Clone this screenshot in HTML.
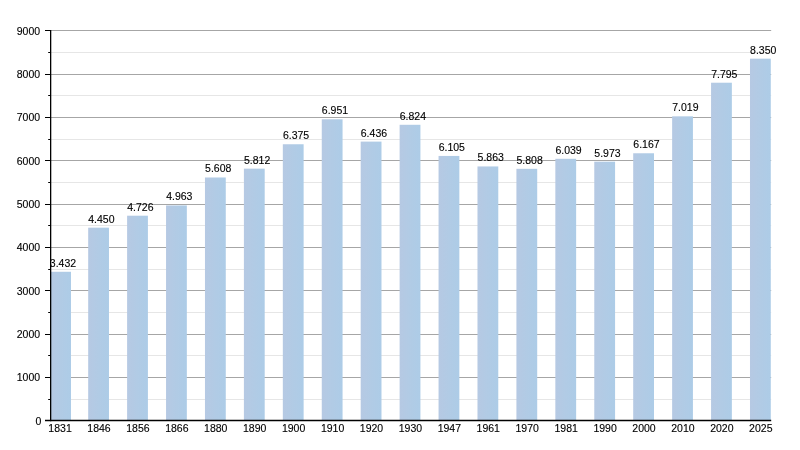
<!DOCTYPE html>
<html><head><meta charset="utf-8"><title>Chart</title>
<style>
html,body{margin:0;padding:0;background:#fff;}
body{width:800px;height:450px;overflow:hidden;}
svg{display:block;opacity:0.999;will-change:transform;}
text{font-family:"Liberation Sans",Arial,Helvetica,sans-serif;font-size:10.5px;fill:#000;stroke:#000;stroke-width:0.12px;}
</style></head><body>
<svg width="800" height="450" viewBox="0 0 800 450">
<rect x="0" y="0" width="800" height="450" fill="#ffffff"/>

<g stroke="#e6e6e6" stroke-width="1">
<line x1="50.6" y1="399.5" x2="771.2" y2="399.5"/>
<line x1="50.6" y1="355.5" x2="771.2" y2="355.5"/>
<line x1="50.6" y1="312.5" x2="771.2" y2="312.5"/>
<line x1="50.6" y1="269.5" x2="771.2" y2="269.5"/>
<line x1="50.6" y1="225.5" x2="771.2" y2="225.5"/>
<line x1="50.6" y1="182.5" x2="771.2" y2="182.5"/>
<line x1="50.6" y1="139.5" x2="771.2" y2="139.5"/>
<line x1="50.6" y1="95.5" x2="771.2" y2="95.5"/>
<line x1="50.6" y1="52.5" x2="771.2" y2="52.5"/>
</g>
<g stroke="#a6a6a6" stroke-width="1">
<line x1="50.6" y1="377.5" x2="771.2" y2="377.5"/>
<line x1="50.6" y1="334.5" x2="771.2" y2="334.5"/>
<line x1="50.6" y1="290.5" x2="771.2" y2="290.5"/>
<line x1="50.6" y1="247.5" x2="771.2" y2="247.5"/>
<line x1="50.6" y1="204.5" x2="771.2" y2="204.5"/>
<line x1="50.6" y1="160.5" x2="771.2" y2="160.5"/>
<line x1="50.6" y1="117.5" x2="771.2" y2="117.5"/>
<line x1="50.6" y1="74.5" x2="771.2" y2="74.5"/>
<line x1="50.6" y1="30.5" x2="771.2" y2="30.5"/>
</g>
<defs><filter id="soft" x="-5%" y="-5%" width="110%" height="110%"><feGaussianBlur stdDeviation="0.4"/></filter></defs>
<defs><linearGradient id="bg" x1="0" y1="0" x2="1" y2="0"><stop offset="0" stop-color="#b6c9e3"/><stop offset="0.5" stop-color="#b1cbe5"/><stop offset="1" stop-color="#adcce7"/></linearGradient></defs>
<g fill="url(#bg)" filter="url(#soft)">
<rect x="50.20" y="271.78" width="20.80" height="148.72"/>
<rect x="88.18" y="227.67" width="20.80" height="192.83"/>
<rect x="127.11" y="215.71" width="20.80" height="204.79"/>
<rect x="166.04" y="205.44" width="20.80" height="215.06"/>
<rect x="204.97" y="177.49" width="20.80" height="243.01"/>
<rect x="243.90" y="168.65" width="20.80" height="251.85"/>
<rect x="282.83" y="144.25" width="20.80" height="276.25"/>
<rect x="321.76" y="119.29" width="20.80" height="301.21"/>
<rect x="360.69" y="141.61" width="20.80" height="278.89"/>
<rect x="399.62" y="124.79" width="20.80" height="295.71"/>
<rect x="438.55" y="155.95" width="20.80" height="264.55"/>
<rect x="477.48" y="166.44" width="20.80" height="254.06"/>
<rect x="516.41" y="168.82" width="20.80" height="251.68"/>
<rect x="555.34" y="158.81" width="20.80" height="261.69"/>
<rect x="594.27" y="161.67" width="20.80" height="258.83"/>
<rect x="633.20" y="153.26" width="20.80" height="267.24"/>
<rect x="672.13" y="116.34" width="20.80" height="304.16"/>
<rect x="711.06" y="82.72" width="20.80" height="337.78"/>
<rect x="749.99" y="58.67" width="20.80" height="361.83"/>
</g>
<g stroke="#000">
<line x1="50.65" y1="30.00" x2="50.65" y2="421.15" stroke-width="1.3"/>
<line x1="45.00" y1="420.50" x2="771.20" y2="420.50" stroke-width="1.3"/>
<line x1="45" y1="377.5" x2="50.65" y2="377.5" stroke-width="1"/>
<line x1="45" y1="334.5" x2="50.65" y2="334.5" stroke-width="1"/>
<line x1="45" y1="290.5" x2="50.65" y2="290.5" stroke-width="1"/>
<line x1="45" y1="247.5" x2="50.65" y2="247.5" stroke-width="1"/>
<line x1="45" y1="204.5" x2="50.65" y2="204.5" stroke-width="1"/>
<line x1="45" y1="160.5" x2="50.65" y2="160.5" stroke-width="1"/>
<line x1="45" y1="117.5" x2="50.65" y2="117.5" stroke-width="1"/>
<line x1="45" y1="74.5" x2="50.65" y2="74.5" stroke-width="1"/>
<line x1="45" y1="30.5" x2="50.65" y2="30.5" stroke-width="1"/>
<line x1="48.2" y1="399.5" x2="50.65" y2="399.5" stroke-width="1"/>
<line x1="48.2" y1="355.5" x2="50.65" y2="355.5" stroke-width="1"/>
<line x1="48.2" y1="312.5" x2="50.65" y2="312.5" stroke-width="1"/>
<line x1="48.2" y1="269.5" x2="50.65" y2="269.5" stroke-width="1"/>
<line x1="48.2" y1="225.5" x2="50.65" y2="225.5" stroke-width="1"/>
<line x1="48.2" y1="182.5" x2="50.65" y2="182.5" stroke-width="1"/>
<line x1="48.2" y1="139.5" x2="50.65" y2="139.5" stroke-width="1"/>
<line x1="48.2" y1="95.5" x2="50.65" y2="95.5" stroke-width="1"/>
<line x1="48.2" y1="52.5" x2="50.65" y2="52.5" stroke-width="1"/>
</g>
<g text-anchor="end">
<text x="41.4" y="425.00">0</text>
<text x="40.1" y="381.00">1000</text>
<text x="40.1" y="338.00">2000</text>
<text x="40.1" y="295.00">3000</text>
<text x="40.1" y="251.00">4000</text>
<text x="40.1" y="208.00">5000</text>
<text x="40.1" y="165.00">6000</text>
<text x="40.1" y="121.00">7000</text>
<text x="40.1" y="78.00">8000</text>
<text x="40.1" y="35.00">9000</text>
</g>
<g text-anchor="middle">
<text x="60.05" y="432.0">1831</text>
<text x="98.98" y="432.0">1846</text>
<text x="137.91" y="432.0">1856</text>
<text x="176.84" y="432.0">1866</text>
<text x="215.77" y="432.0">1880</text>
<text x="254.70" y="432.0">1890</text>
<text x="293.63" y="432.0">1900</text>
<text x="332.56" y="432.0">1910</text>
<text x="371.49" y="432.0">1920</text>
<text x="410.42" y="432.0">1930</text>
<text x="449.35" y="432.0">1947</text>
<text x="488.28" y="432.0">1961</text>
<text x="527.21" y="432.0">1970</text>
<text x="566.14" y="432.0">1981</text>
<text x="605.07" y="432.0">1990</text>
<text x="644.00" y="432.0">2000</text>
<text x="682.93" y="432.0">2010</text>
<text x="721.86" y="432.0">2020</text>
<text x="760.79" y="432.0">2025</text>
</g>
<g>
<text x="49.80" y="267.25">3.432</text>
<text x="88.28" y="223.25">4.450</text>
<text x="127.21" y="211.25">4.726</text>
<text x="166.14" y="200.25">4.963</text>
<text x="205.07" y="172.25">5.608</text>
<text x="244.00" y="164.25">5.812</text>
<text x="282.93" y="139.25">6.375</text>
<text x="321.86" y="114.25">6.951</text>
<text x="360.79" y="137.25">6.436</text>
<text x="399.72" y="120.25">6.824</text>
<text x="438.65" y="151.25">6.105</text>
<text x="477.58" y="161.25">5.863</text>
<text x="516.51" y="164.25">5.808</text>
<text x="555.44" y="154.25">6.039</text>
<text x="594.37" y="157.25">5.973</text>
<text x="633.30" y="148.25">6.167</text>
<text x="672.23" y="111.25">7.019</text>
<text x="711.16" y="78.25">7.795</text>
<text x="750.09" y="54.25">8.350</text>
</g>
</svg></body></html>
